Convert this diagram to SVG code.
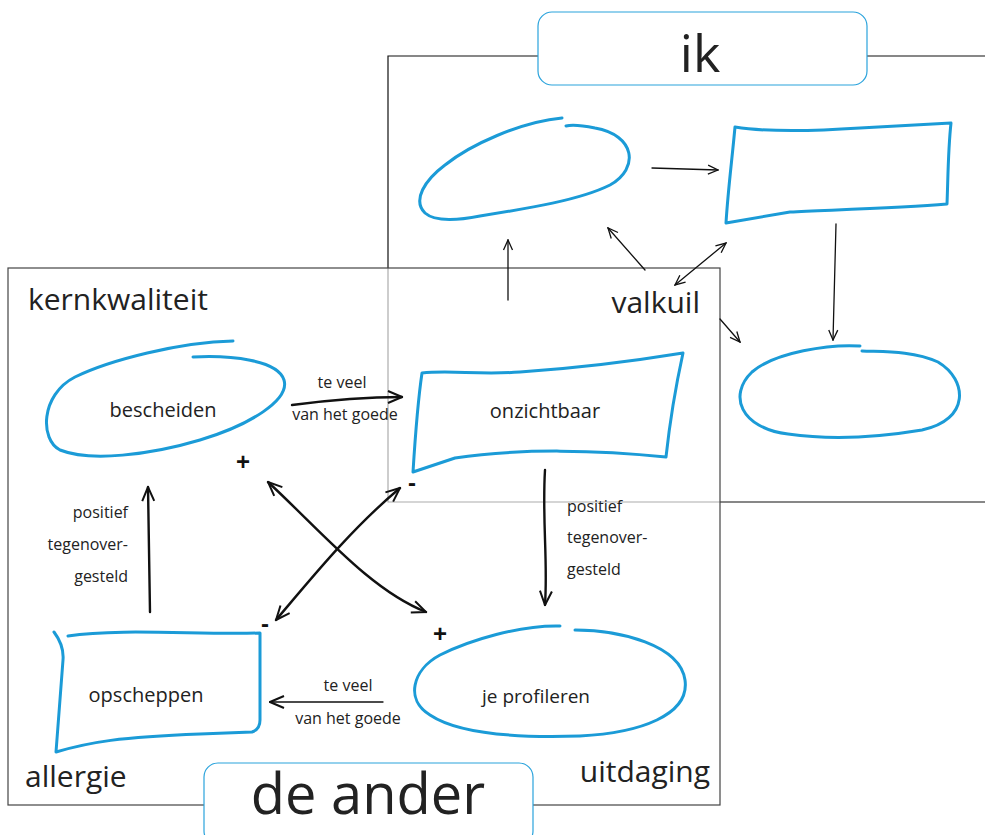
<svg xmlns="http://www.w3.org/2000/svg" width="985" height="835" viewBox="0 0 985 835">
<defs>
<style>
.bl{fill:none;stroke:#1b9bd7;stroke-width:3;stroke-linecap:round;stroke-linejoin:round}
.tb{fill:#fff;stroke:#2aa3dc;stroke-width:1.2}
.t{font-family:"Open Sans","Noto Sans",sans-serif;fill:#222}
.big{font-size:30px}
.nd{font-size:20px;text-anchor:middle}
.sm{font-size:16px}
.thin{fill:none;stroke:#111;stroke-width:1.3;stroke-linecap:round}
.thick{fill:none;stroke:#111;stroke-width:2.4;stroke-linecap:round}
.sg{font-family:"Liberation Sans",sans-serif;font-weight:bold;font-size:24px;fill:#111;text-anchor:middle}
</style>
<marker id="ah" viewBox="0 0 12 12" refX="11" refY="6" markerWidth="12" markerHeight="12" markerUnits="userSpaceOnUse" orient="auto-start-reverse"><path d="M1,1.5 L11,6 L1,10.5" fill="none" stroke="#111" stroke-width="1.3"/></marker>
<marker id="ahb" viewBox="0 0 16 16" refX="15" refY="8" markerWidth="16" markerHeight="16" markerUnits="userSpaceOnUse" orient="auto-start-reverse"><path d="M1,2 L15,8 L1,14" fill="none" stroke="#111" stroke-width="2"/></marker>
</defs>
<rect width="985" height="835" fill="#fff"/>

<g id="frame-ik">
<path d="M538,56 H388 V502 H985 M867,56 H985" fill="none" stroke="#111" stroke-width="1.2"/>
</g>

<g id="frame-de-ander">
<rect x="8" y="268" width="712" height="537" fill="#fff" fill-opacity="0.65" stroke="#444" stroke-width="1.2"/>
</g>

<g id="title-ik">
<rect class="tb" x="538" y="12" width="329" height="73" rx="14"/>
<text class="t" x="700" y="72" font-size="52" text-anchor="middle">ik</text>
</g>

<g id="title-de-ander">
<rect class="tb" x="204" y="763" width="329" height="82" rx="14"/>
<text class="t" x="368" y="814" font-size="56" text-anchor="middle">de ander</text>
</g>

<g id="ik-kernkwaliteit">
<path class="bl" d="M562,118 C520,122 470,145 445,165 C425,180 412,200 425,213 C435,222 460,220 480,216 C530,208 580,200 610,185 C640,168 635,135 595,128 C580,125 570,125 566,126"/>
</g>
<g id="ik-valkuil">
<path class="bl" d="M735,127 C760,131 800,132 860,128 L951,123 C948,150 948,180 947,204 C900,208 830,210 790,212 L726,223 C728,190 732,160 735,127 Z"/>
</g>
<g id="ik-uitdaging">
<path class="bl" d="M860,346 C830,344 775,352 752,372 C728,395 740,428 788,434 C830,440 880,437 922,430 C970,420 968,380 938,362 C912,350 880,352 862,351"/>
</g>

<g id="label-kernkwaliteit"><text class="t big" x="28" y="310">kernkwaliteit</text></g>
<g id="label-valkuil"><text class="t big" x="700" y="313" text-anchor="end">valkuil</text></g>
<g id="label-allergie"><text class="t big" x="25" y="787">allergie</text></g>
<g id="label-uitdaging"><text class="t big" x="710" y="782" text-anchor="end">uitdaging</text></g>

<g id="bescheiden">
<path class="bl" d="M233,341 C180,342 110,360 75,377 C40,395 40,440 60,450 C90,462 150,455 200,440 C250,425 290,400 284,380 C278,360 230,355 193,357"/>
<text class="t nd" x="163" y="417">bescheiden</text>
</g>
<g id="onzichtbaar">
<path class="bl" d="M422,373 C450,370 480,375 520,372 C580,368 640,360 683,353 C676,385 670,420 666,457 C600,450 520,448 455,458 L413,472 C415,440 418,400 422,373 Z"/>
<text class="t nd" x="545" y="418">onzichtbaar</text>
</g>
<g id="opscheppen">
<path class="bl" d="M54,632 C60,640 64,648 63,660 L56,752 C90,742 120,737 200,734 L252,732 C258,730 260,725 260,720 L260,633 C200,635 120,628 68,636"/>
<text class="t nd" x="146" y="702">opscheppen</text>
</g>
<g id="je-profileren">
<path class="bl" d="M560,626 C520,625 470,640 440,655 C412,670 405,700 430,715 C460,735 520,738 580,736 C640,733 690,715 685,680 C680,645 620,630 575,630"/>
<text class="t" x="536" y="703" font-size="19" text-anchor="middle">je profileren</text>
</g>

<g id="signs">
<text class="sg" x="243" y="470">+</text>
<text class="sg" x="412" y="491">-</text>
<text class="sg" x="265" y="632">-</text>
<text class="sg" x="440" y="642">+</text>
</g>

<g id="connectors">
<path class="thin" d="M652,168 L718,170" marker-end="url(#ah)"/>
<path class="thin" d="M836,224 L833,340" marker-end="url(#ah)"/>
<path class="thin" d="M508,300 L508,240" marker-end="url(#ah)"/>
<path class="thin" d="M645,270 L608,228" marker-end="url(#ah)"/>
<path class="thin" d="M675,285 L726,243" marker-start="url(#ah)" marker-end="url(#ah)"/>
<path class="thin" d="M720,319 L740,342" marker-end="url(#ah)"/>

<path class="thick" d="M292,405 C330,400 370,397 402,397" marker-end="url(#ahb)"/>
<path class="thick" d="M268,482 C320,530 370,590 426,612" marker-start="url(#ahb)" marker-end="url(#ahb)"/>
<path class="thick" d="M400,488 C350,530 310,580 276,620" marker-start="url(#ahb)" marker-end="url(#ahb)"/>
<path class="thick" d="M150,612 L148,487" marker-end="url(#ahb)"/>
<path class="thick" d="M545,470 C542,520 548,560 545,605" marker-end="url(#ahb)"/>
<path class="thin" d="M383,702 L270,702" marker-end="url(#ahb)"/>

<text class="t sm" x="342" y="388" text-anchor="middle">te veel</text>
<text class="t sm" x="345" y="420" text-anchor="middle">van het goede</text>
<text class="t sm" x="348" y="691" text-anchor="middle">te veel</text>
<text class="t sm" x="348" y="724" text-anchor="middle">van het goede</text>
<text class="t sm" x="128" y="518" text-anchor="end">positief</text>
<text class="t sm" x="128" y="550" text-anchor="end">tegenover-</text>
<text class="t sm" x="128" y="582" text-anchor="end">gesteld</text>
<text class="t sm" x="567" y="512">positief</text>
<text class="t sm" x="567" y="543">tegenover-</text>
<text class="t sm" x="567" y="575">gesteld</text>
</g>
</svg>
